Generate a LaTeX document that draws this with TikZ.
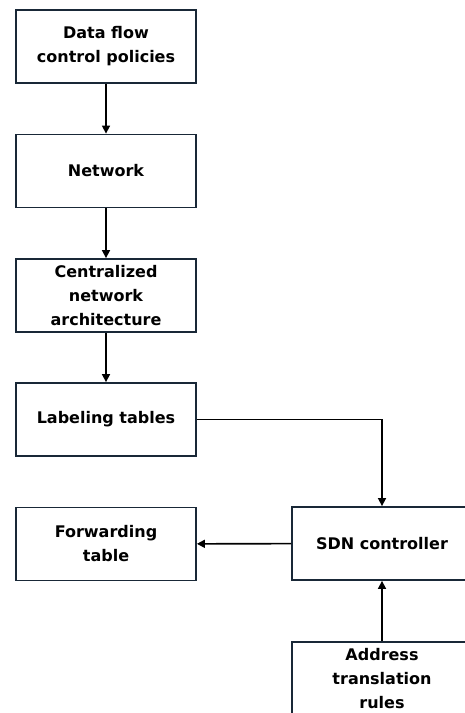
\documentclass[tikz,border=0pt]{standalone}
\usepackage{fontspec}
\setmainfont{DejaVu Sans}
\usepackage{tikz}
\usetikzlibrary{arrows.meta, positioning, calc}
\definecolor{boxline}{RGB}{25, 40, 55}

\tikzset{
	stagebox/.style={draw=boxline, line width=1.8pt, fill=white, minimum width=180pt,
		minimum height=73pt, align=center, inner sep=2pt,
		font=\fontsize{16}{24}\selectfont\bfseries},
	flow/.style={line width=1.6pt, -{Triangle[length=8pt,width=8pt]}}
}

\begin{document}
\begin{tikzpicture}[x=1pt, y=1pt]
	\useasboundingbox (0,0) rectangle (465,713);
	\clip (0,0) rectangle (465,713);
	\fill[white] (0,0) rectangle (465,713);
	% left column
	\node[stagebox] (policies) at (106,666.5) {Data flow\\control policies};
	\node[stagebox] (network) at (106,542) {Network};
	\node[stagebox] (central) at (106,417.5) {Centralized\\network\\architecture};
	\node[stagebox] (labeling) at (106,293.5) {Labeling tables};
	\node[stagebox] (forwarding) at (106,169) {Forwarding\\table};
	% right column, cut off by the page edge
	\node[stagebox] (sdn) at (382,169.5) {SDN controller};
	\node[stagebox] (address) at (382,34.5) {Address\\translation\\rules};
	\draw[flow] (policies) -- (network);
	\draw[flow] (network) -- (central);
	\draw[flow] (central) -- (labeling);
	\draw[flow] (labeling.east) -| (sdn.north);
	\draw[flow] (sdn) -- (forwarding);
	\draw[flow] (address) -- (sdn);
\end{tikzpicture}
\end{document}
